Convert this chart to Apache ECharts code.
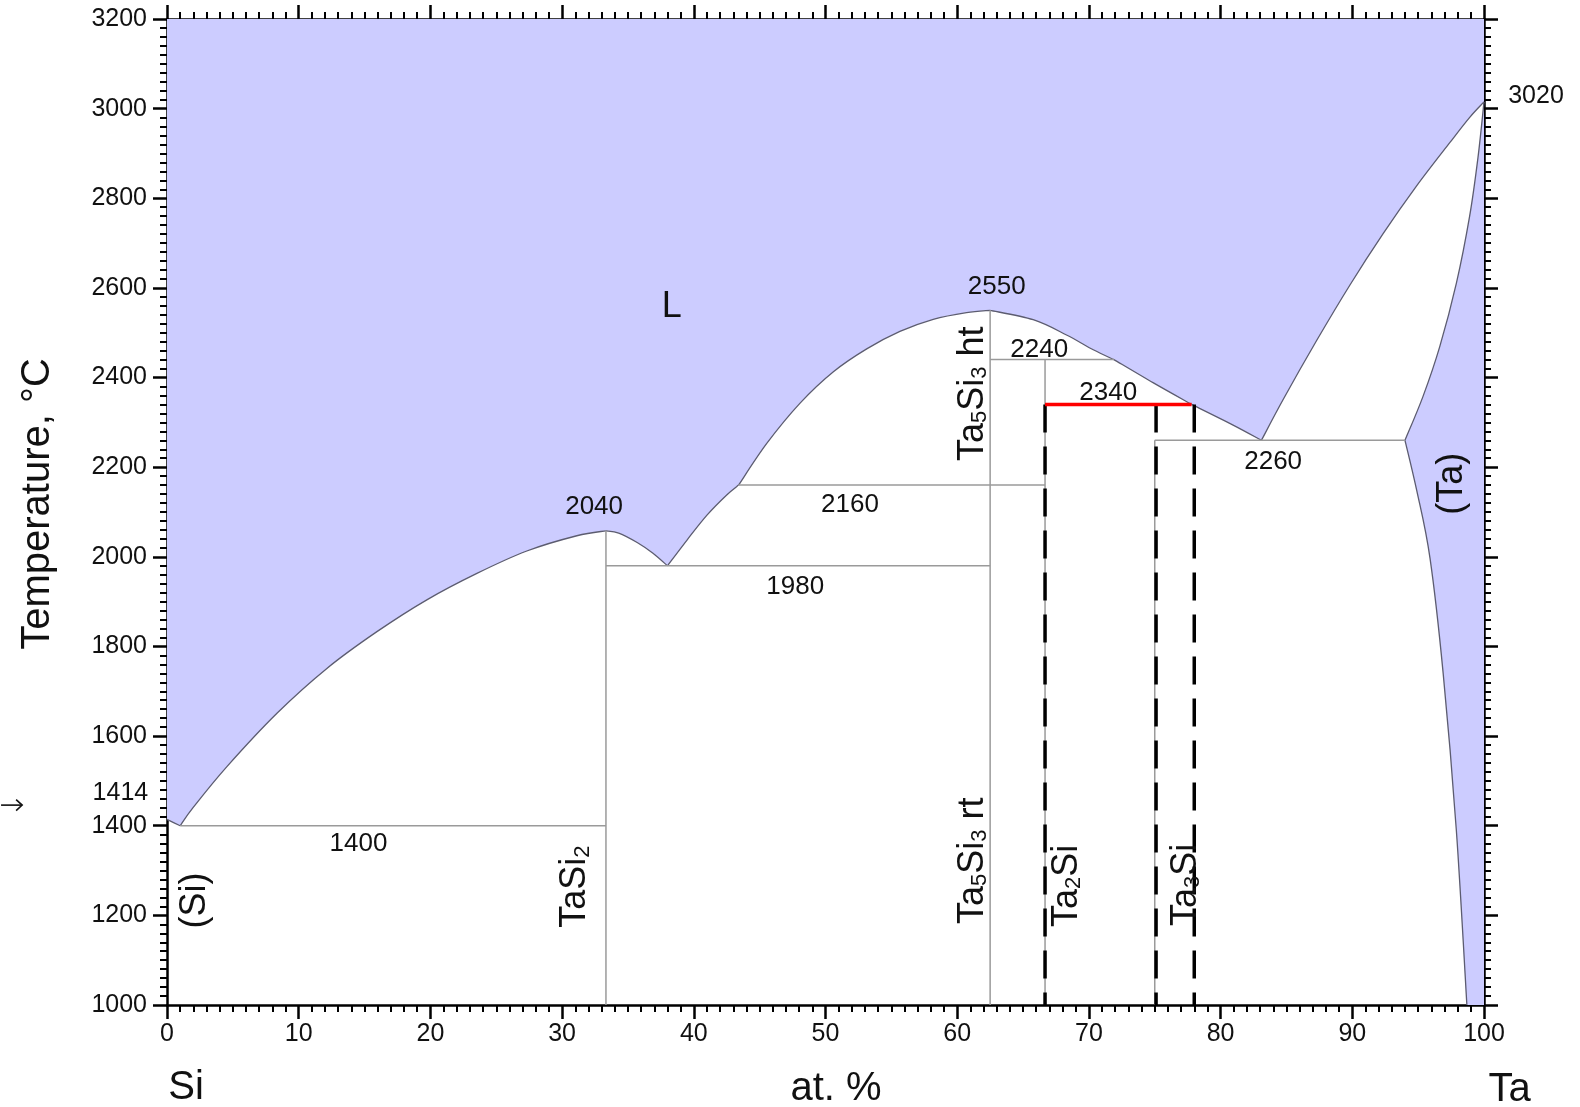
<!DOCTYPE html>
<html>
<head>
<meta charset="utf-8">
<title>Si-Ta</title>
<script src="https://cdn.jsdelivr.net/npm/echarts@6/dist/echarts.min.js"></script>
<style>
html, body { margin: 0; padding: 0; background: #fff; }
#chart { width: 1580px; height: 1107px; }
</style>
</head>
<body>
<div id="chart"></div>
<script>
// x = at.% Ta, y = temperature (C)
var xTicks = [0, 10, 20, 30, 40, 50, 60, 70, 80, 90, 100];
var yTicks = [1000, 1200, 1400, 1600, 1800, 2000, 2200, 2400, 2600, 2800, 3000, 3200];

// liquidus, piece by piece (corners between pieces)
var liqSi = [[0, 1414], [1, 1400]];
var liqTaSi2A = [[1, 1400], [2.02, 1442], [4.55, 1532], [8.35, 1651], [12.14, 1751], [15.94, 1833],
    [19.73, 1904], [23.53, 1963], [27.32, 2013], [31.12, 2047], [33.33, 2058]];
var liqTaSi2B = [[33.33, 2058], [34.3, 2053], [35.7, 2032], [36.9, 2008], [38, 1980]];
var liqTa5Si3A = [[38, 1980], [39.5, 2038], [41, 2093], [42.5, 2138], [43.4, 2160]];
var liqTa5Si3B = [[43.4, 2160], [45.54, 2253], [48.07, 2343], [50.6, 2413], [53.13, 2464],
    [55.65, 2503], [58.18, 2530], [60.71, 2545], [62.5, 2550]];
var liqTa5Si3C = [[62.5, 2550], [65.77, 2529], [68.3, 2495], [70.33, 2462], [71.9, 2440]];
var liqTa2Si = [[71.9, 2440], [74.9, 2388], [77.8, 2340]];
var liqTa3Si = [[77.8, 2340], [80.95, 2294], [83.1, 2260]];
var liqTa = [[83.1, 2260], [84.75, 2351], [87.28, 2482], [89.81, 2606], [92.34, 2721],
    [94.87, 2827], [97.4, 2924], [98.9, 2980], [100, 3015]];

// (Ta) solid solution
var solidusTa = [[94.0, 2260], [95.37, 2358], [96.64, 2469], [97.9, 2610], [98.91, 2760], [99.54, 2890], [100, 3015]];
var solvusTa = [[94.0, 2260], [94.9, 2147], [95.9, 1997], [96.9, 1740], [97.9, 1390], [98.7, 1000]];

var isotherms = [
    [[1, 1400], [33.33, 1400]],
    [[33.33, 1980], [62.5, 1980]],
    [[43.4, 2160], [66.67, 2160]],
    [[62.5, 2440], [71.9, 2440]],
    [[75, 2260], [94.0, 2260]]
];
var compoundLines = [
    [[33.33, 1000], [33.33, 2058]],
    [[62.5, 1000], [62.5, 2550]],
    [[66.67, 1000], [66.67, 2440]],
    [[75, 1000], [75, 2260]]
];
var dashedLines = [
    [[66.67, 2340], [66.67, 1000]],
    [[75.1, 2340], [75.1, 1000]],
    [[78, 2340], [78, 1000]]
];
var redLine = [[66.67, 2340], [77.8, 2340]];
// pointer to the Si melting point, left of the axis
var meltArrow = [[-12.6, 1446], [-11.0, 1446]];

var tempLabels = [
    ['2040', 32.43, 2112], ['2550', 63.0, 2603], ['2240', 66.23, 2462], ['2340', 71.47, 2365],
    ['2260', 83.99, 2212], ['2160', 51.86, 2116], ['1980', 47.7, 1932], ['1400', 14.54, 1359]
];
var phaseLabelsFlat = [['L', 38.33, 2557]];
var phaseLabelsUp = [
    ['(Si)', 1.96, 1233], ['TaSi_2', 30.87, 1264], ['Ta_5Si_3 ht', 61.03, 2364],
    ['Ta_5Si_3 rt', 61.03, 1322], ['Ta_2Si', 68.18, 1266], ['Ta_3Si', 77.2, 1268], ['(Ta)', 97.46, 2163]
];
var sideNotes = [['3020', 103.95, 3027], ['1414', -3.54, 1472]];
var axisWords = [['Si', 1.45, 814], ['at. %', 50.8, 812], ['Ta', 101.95, 810]];
var axisWordsUp = [['Temperature, \u00b0C', -9.77, 2118]];

var FONT = "'Liberation Sans', Arial, Helvetica, sans-serif";
var TEXT = '#111';
var FILL = '#ccccff';
var CURVE = '#5c5c70';
var GREY = '#9a9a9a';

var dom = document.getElementById('chart');
var myChart = echarts.init(dom);

function f(v) { return v.toFixed(2); }
function pt(p) { return f(p[0]) + ' ' + f(p[1]); }

// cubic pieces through the points (catmull-rom)
function bez(pts) {
    var d = '';
    for (var i = 0; i < pts.length - 1; i++) {
        var p0 = pts[i > 0 ? i - 1 : i], p1 = pts[i], p2 = pts[i + 1];
        var p3 = pts[i + 2 < pts.length ? i + 2 : i + 1];
        d += ' C' + f(p1[0] + (p2[0] - p0[0]) / 6) + ' ' + f(p1[1] + (p2[1] - p0[1]) / 6) +
            ' ' + f(p2[0] - (p3[0] - p1[0]) / 6) + ' ' + f(p2[1] - (p3[1] - p1[1]) / 6) +
            ' ' + pt(p2);
    }
    return d;
}

var liquidus = [liqSi, liqTaSi2A, liqTaSi2B, liqTa5Si3A, liqTa5Si3B, liqTa5Si3C, liqTa2Si, liqTa3Si, liqTa];

function toRich(s) {
    var parts = s.split(/_(\d)/);
    var out = '';
    for (var i = 0; i < parts.length; i++) {
        if (!parts[i]) continue;
        out += (i % 2 ? '{s|' : '{m|') + parts[i] + '}';
    }
    return out;
}

function segSeries(pts, style, z) {
    return {
        type: 'line', data: pts, symbol: 'none', silent: true, z: z,
        lineStyle: style, animation: false
    };
}

function textSeries(list, fontSize, rotate, rich) {
    return {
        type: 'scatter', clip: false, silent: true, z: 10,
        symbolSize: 1, itemStyle: { color: 'rgba(0,0,0,0)', opacity: 1 },
        emphasis: { disabled: true },
        data: list.map(function (l) { return { name: l[0], value: [l[1], l[2]] }; }),
        label: {
            show: true, position: 'inside', rotate: rotate, opacity: 1,
            color: TEXT, fontFamily: FONT, fontSize: fontSize,
            textBorderWidth: 0,
            formatter: rich ? function (p) { return toRich(p.name); } : '{b}',
            rich: rich ? {
                m: { fontSize: 36, lineHeight: 40, fontFamily: FONT, color: TEXT, verticalAlign: 'bottom' },
                s: { fontSize: 22, lineHeight: 22, fontFamily: FONT, color: TEXT, verticalAlign: 'bottom' }
            } : undefined
        }
    };
}

var axisCommon = {
    type: 'value',
    axisLine: { show: true, onZero: false, lineStyle: { color: '#000', width: 2.5 } },
    axisTick: { show: true, inside: false, length: 14, lineStyle: { color: '#000', width: 2.5 } },
    minorTick: { show: true, splitNumber: 10, length: 7, lineStyle: { color: '#000', width: 2 } },
    splitLine: { show: false },
    minorSplitLine: { show: false }
};

function axis(extra) {
    return Object.assign({}, axisCommon, extra);
}

function plain(v) { return String(v); }

var series = [];

// fills and phase boundary curves
series.push({
    type: 'custom', silent: true, z: 1, animation: false, clip: false,
    data: [[0, 1000]],
    renderItem: function (params, api) {
        function px(p) { return api.coord(p); }
        var d = 'M' + pt(px([0, 3200]));
        liquidus.forEach(function (seg) {
            var pp = seg.map(px);
            d += ' L' + pt(pp[0]) + bez(pp);
        });
        d += ' L' + pt(px([100, 3200])) + ' Z';
        var up = solvusTa.slice().reverse().map(px);
        var dTa = 'M' + pt(up[0]) + bez(up) + bez(solidusTa.map(px)) + ' L' + pt(px([100, 1000])) + ' Z';
        var children = [
            { type: 'path', shape: { pathData: d }, style: { fill: FILL } },
            { type: 'path', shape: { pathData: dTa }, style: { fill: FILL } }
        ];
        liquidus.concat([solidusTa, solvusTa]).forEach(function (seg) {
            var pp = seg.map(px);
            children.push({
                type: 'path', shape: { pathData: 'M' + pt(pp[0]) + bez(pp) },
                style: { fill: 'none', stroke: CURVE, lineWidth: 1.3 }
            });
        });
        // arrow beside the 1414 note
        var a0 = px(meltArrow[0]), a1 = px(meltArrow[1]);
        children.push({
            type: 'polyline', shape: { points: [a0, a1] },
            style: { fill: null, stroke: '#111', lineWidth: 1.6 }
        });
        children.push({
            type: 'polyline', shape: { points: [[a1[0] - 6, a1[1] - 5.5], a1, [a1[0] - 6, a1[1] + 5.5]] },
            style: { fill: null, stroke: '#111', lineWidth: 1.6 }
        });
        return { type: 'group', children: children };
    }
});

isotherms.forEach(function (s) { series.push(segSeries(s, { color: GREY, width: 1.5 }, 3)); });
compoundLines.forEach(function (s) { series.push(segSeries(s, { color: GREY, width: 1.5 }, 3)); });
dashedLines.forEach(function (s) { series.push(segSeries(s, { color: '#000', width: 3.5, type: [28, 14] }, 4)); });
series.push(segSeries(redLine, { color: '#ff0000', width: 3.5 }, 5));

series.push(textSeries(tempLabels, 26, 0, false));
series.push(textSeries(phaseLabelsFlat, 36, 0, false));
series.push(textSeries(phaseLabelsUp, 36, 90, true));
series.push(textSeries(sideNotes, 25, 0, false));
series.push(textSeries(axisWords, 40, 0, false));
series.push(textSeries(axisWordsUp, 40, 90, false));

option = {
    animation: false,
    backgroundColor: '#fff',
    grid: { left: 167, top: 19, right: 96, bottom: 102 },
    xAxis: [
        axis({
            min: xTicks[0], max: xTicks[xTicks.length - 1], interval: 10, position: 'bottom',
            axisLabel: { fontSize: 25, margin: 17, color: TEXT, fontFamily: FONT, formatter: plain }
        }),
        axis({
            min: xTicks[0], max: xTicks[xTicks.length - 1], interval: 10, position: 'top',
            axisLabel: { show: false }
        })
    ],
    yAxis: [
        axis({
            min: yTicks[0], max: yTicks[yTicks.length - 1], interval: 200, position: 'left',
            axisLabel: { fontSize: 25, margin: 20, color: TEXT, fontFamily: FONT, formatter: plain }
        }),
        axis({
            min: yTicks[0], max: yTicks[yTicks.length - 1], interval: 200, position: 'right',
            axisLabel: { show: false }
        })
    ],
    series: series
};

if (option && typeof option === 'object') {
    myChart.setOption(option, true);
}
</script>
</body>
</html>
